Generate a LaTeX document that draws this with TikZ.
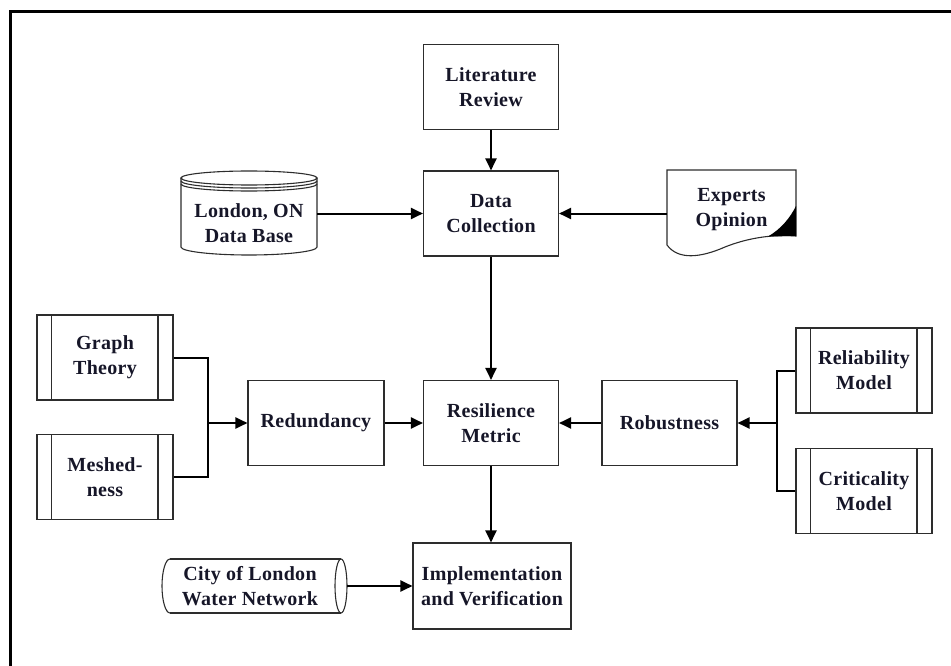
\documentclass[tikz,border=0pt]{standalone}
\usepackage{fontspec}
\setmainfont{Liberation Serif}[LetterSpace=1.5]
\usetikzlibrary{arrows.meta,calc}
\definecolor{ink}{RGB}{22,22,40}
\definecolor{edge}{RGB}{45,45,45}

\begin{document}
\begin{tikzpicture}[x=1pt,y=-1pt,
  lbl/.style={font=\bfseries\fontsize{20}{25}\selectfont, text=ink, align=center, inner sep=0pt},
  proc/.style={lbl, draw=edge, line width=1.1pt, minimum width=135pt, minimum height=85pt},
  predef/.style={proc, minimum width=136pt,
    path picture={
      \draw[edge, line width=1.1pt]
        ([xshift=14.5pt]path picture bounding box.north west) -- ([xshift=14.5pt]path picture bounding box.south west)
        ([xshift=-15pt]path picture bounding box.north east) -- ([xshift=-15pt]path picture bounding box.south east);
    }},
  outline/.style={draw=edge, line width=1.1pt},
  link/.style={line width=2pt, draw=black},
  flow/.style={link, -{Triangle[length=12pt,width=11pt]}}
]
\useasboundingbox (0,0) rectangle (951,666);

% outer frame (runs past the page on the right and bottom)
\draw[line width=3pt] (10.5,700) -- (10.5,12) -- (1000,12);

% process boxes
\node[proc] (lit) at (491,87) {Literature\\Review};
\node[proc] (dc) at (491,213.5) {Data\\Collection};
\node[proc] (rm) at (491,423) {Resilience\\Metric};
\node[proc, minimum width=158pt, minimum height=86pt] (iv) at (492,586) {Implementation\\and Verification};
\node[proc, minimum width=136pt] (red) at (316,423) {Redundancy};
\node[proc] (rob) at (669.5,423) {Robustness};

% predefined-process boxes
\node[predef] (gt) at (105,357.5) {Graph\\Theory};
\node[predef] (mesh) at (105,477) {Meshed-\\ness};
\node[predef] (rel) at (864,370.5) {Reliability\\Model};
\node[predef] (cri) at (864,491) {Criticality\\Model};

% database drum
\node[lbl, minimum width=136pt, minimum height=30pt] (db) at (249,223) {London, ON\\Data Base};
\draw[outline] (249,178) ellipse [x radius=68, y radius=7];
\draw[outline] (181,181) arc [start angle=180, end angle=0, x radius=68, y radius=7];
\draw[outline] (181,184) arc [start angle=180, end angle=0, x radius=68, y radius=7];
\draw[outline] (181,178) -- (181,247) arc [start angle=180, end angle=0, x radius=68, y radius=8] -- (317,178);

% document sheet
\node[lbl, minimum width=129pt, minimum height=30pt] (exp) at (731.5,210) {Experts\\Opinion};
\draw[outline] (667,245) -- (667,170) -- (796,170) -- (796,236)
  .. controls (770,234) and (745,239) .. (725,247)
  .. controls (700,258) and (678,260) .. (667,245);
\fill[black] (796,206) -- (796,236) -- (768,236.5)
  .. controls (781,229) and (790,218) .. cycle;

% horizontal storage cylinder
\node[lbl, minimum width=194pt, minimum height=30pt] (city) at (250,586) {City of London\\Water Network};
\draw[outline] (170,559) -- (341,559) (170,613) -- (341,613);
\draw[outline] (341,586) ellipse [x radius=6, y radius=27];
\draw[outline] (170,559) arc [start angle=270, end angle=90, x radius=8, y radius=27];

% junctions
\coordinate (jl) at (208,423);
\coordinate (jr) at (777,423);

% connectors
\draw[flow] (lit.south) -- (dc.north);
\draw[flow] (db.east |- dc) -- (dc.west);
\draw[flow] (exp.west |- dc) -- (dc.east);
\draw[flow] (dc.south) -- (rm.north);
\draw[link] (gt.east) -| (jl) |- (mesh.east);
\draw[flow] (jl) -- (red.west);
\draw[flow] (red.east) -- (rm.west);
\draw[link] (rel.west) -| (jr) |- (cri.west);
\draw[flow] (jr) -- (rob.east);
\draw[flow] (rob.west) -- (rm.east);
\draw[flow] (rm.south) -- (rm.south |- iv.north);
\draw[flow] (city.east) -- (iv.west);
\end{tikzpicture}
\end{document}
